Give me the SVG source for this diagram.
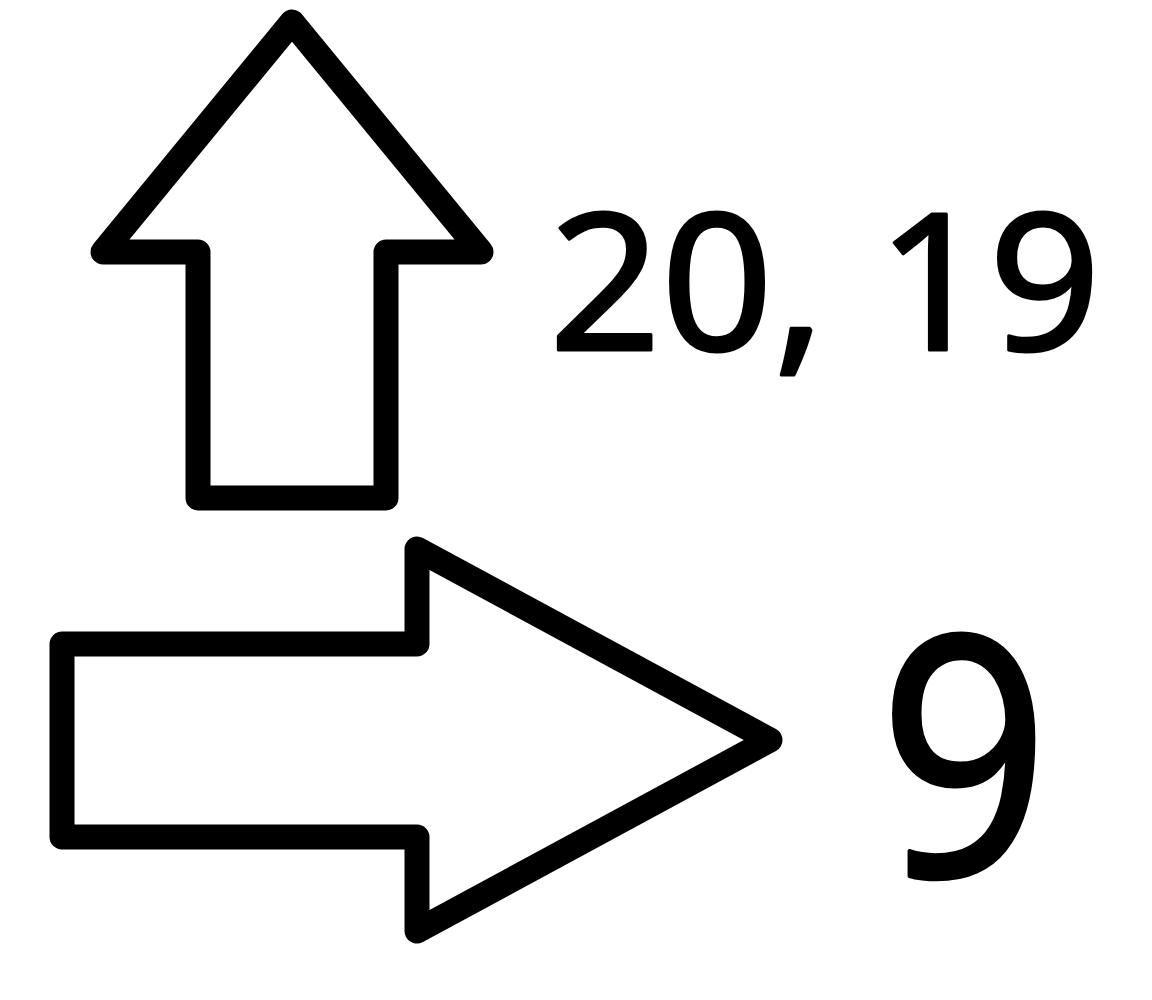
<svg xmlns="http://www.w3.org/2000/svg" width="1152" height="1000" viewBox="0 0 1152 1000">
<style>
.arrow{fill:#fff;stroke:#000;stroke-width:25;stroke-linejoin:round}
.lbl{font-family:"Noto Sans","Open Sans",sans-serif;fill:#000;stroke:#000;stroke-linejoin:round}
</style>
<rect width="1152" height="1000" fill="#fff"/>
<g id="connectors">
<g id="up-arrow"><polygon class="arrow" points="292,22 481,252 386,252 386,498 198,498 198,252 103,252"/></g>
<g id="right-arrow"><polygon class="arrow" points="62,644 417,644 417,549 770,740 417,931 417,837 62,837"/></g>
</g>
<g id="label-up"><text class="lbl" x="549" y="350" font-size="190" stroke-width="3" textLength="552" lengthAdjust="spacingAndGlyphs">20, 19</text></g>
<g id="label-right"><text class="lbl" x="879" y="876" font-size="335" stroke-width="4" textLength="170" lengthAdjust="spacingAndGlyphs">9</text></g>
</svg>
